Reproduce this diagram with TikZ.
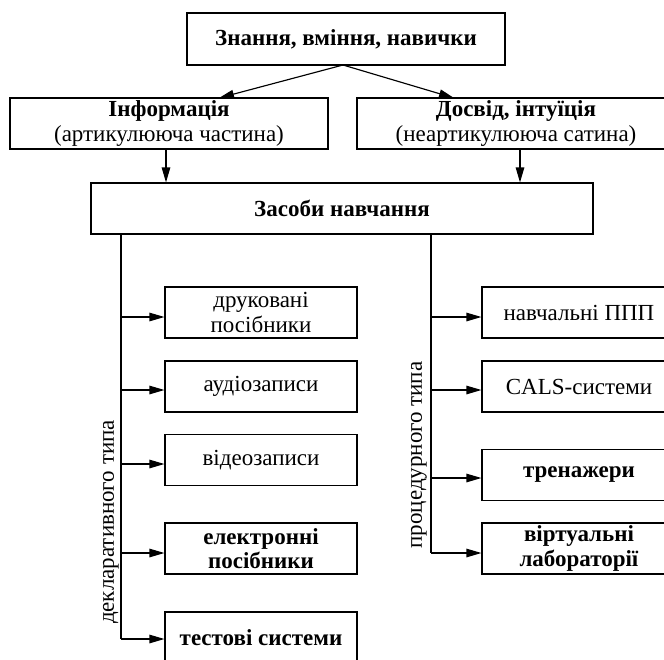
\documentclass[tikz,border=0pt]{standalone}
\usepackage{fontspec}
\setmainfont{Liberation Serif}
\usetikzlibrary{arrows.meta,calc}
\newcommand\myfs{\fontsize{23}{24.5}\selectfont}
\tikzset{
  box/.style={draw, line width=1.15pt, inner sep=0pt, align=center, font=\myfs, minimum height=51pt},
  topbox/.style={box, minimum width=318pt},
  leftbox/.style={box, minimum width=192pt},
  rightbox/.style={box, minimum width=194pt},
  lbl/.style={font=\myfs, inner sep=0pt, rotate=90},
  conn/.style={line width=1.15pt},
  arr/.style={line width=1.15pt, -{Triangle[length=15pt,width=8.5pt]}}
}
\begin{document}
\begin{tikzpicture}[x=1pt,y=-1pt]
\useasboundingbox (0,0) rectangle (664,659);
% top levels
\node[topbox, minimum height=52pt] (znv) at (346,39) {\textbf{Знання, вміння, навички}};
\node[topbox] (inf) at (169,123.5) {\textbf{Інформація}\\(артикулююча частина)};
\node[topbox] (dos) at (516,123.5) {\textbf{Досвід, інтуїція}\\(неартикулююча сатина)};
\node[box, minimum width=502pt] (zas) at (342,208.5) {\textbf{Засоби навчання}};
% left column
\node[leftbox] (l1) at (261,312.5) {друковані\\посібники};
\node[leftbox] (l2) at (261,386.5) {аудіозаписи};
\node[leftbox] (l3) at (261,460) {відеозаписи};
\node[leftbox] (l4) at (261,548.5) {\textbf{електронні}\\\textbf{посібники}};
\node[leftbox] (l5) at (261,637.5) {\textbf{тестові системи}};
% right column
\node[rightbox] (r1) at (579,312.5) {навчальні ППП};
\node[rightbox] (r2) at (579,386.5) {CALS-системи};
\node[rightbox] (r3) at (579,475) {\textbf{тренажери}};
\node[rightbox] (r4) at (579,548.5) {\textbf{віртуальні}\\\textbf{лабораторії}};
% labels
\node[lbl] (dekl) at (111,522) {декларативного типа};
\node[lbl] (proc) at (419,455) {процедурного типа};
% connectors top
\coordinate (src) at (343,65);
\coordinate (infin) at (219,98);
\coordinate (dosin) at (454,98);
\draw[arr] (src) -- (infin);
\draw[arr] (src) -- (dosin);
\coordinate (infout) at (166,149);
\coordinate (dosout) at (520,149);
\draw[arr] (infout) -- (infout |- zas.north);
\draw[arr] (dosout) -- (dosout |- zas.north);
% left trunk
\coordinate (lt) at (121,234);
\coordinate (la1) at (121,317);
\coordinate (la2) at (121,390);
\coordinate (la3) at (121,464);
\coordinate (la4) at (121,553);
\coordinate (la5) at (121,639);
\draw[conn] (lt) -- (la5);
\foreach \i in {1,...,5}{\draw[arr] (la\i) -- (la\i -| l\i.west);}
% right trunk
\coordinate (rt) at (431,234);
\coordinate (ra1) at (431,317);
\coordinate (ra2) at (431,390);
\coordinate (ra3) at (431,478);
\coordinate (ra4) at (431,553);
\draw[conn] (rt) -- (ra4);
\foreach \i in {1,...,4}{\draw[arr] (ra\i) -- (ra\i -| r\i.west);}
\end{tikzpicture}
\end{document}
